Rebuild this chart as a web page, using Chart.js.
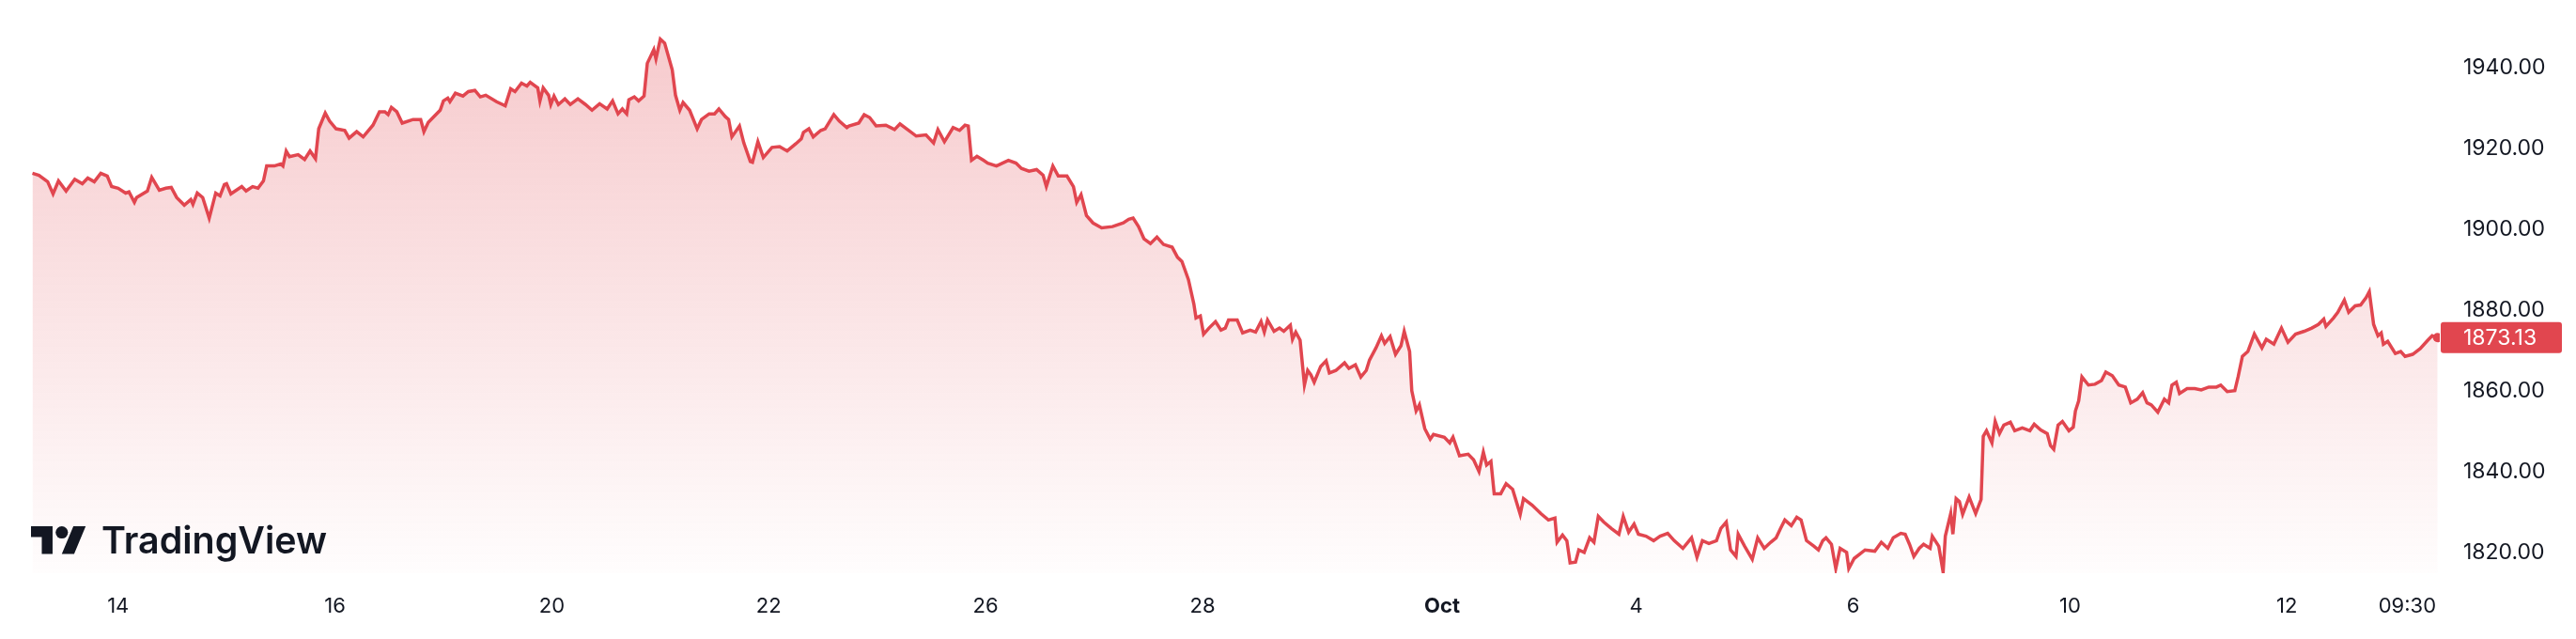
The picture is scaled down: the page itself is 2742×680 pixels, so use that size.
<!DOCTYPE html>
<html>
<head>
<meta charset="utf-8">
<title>Price chart</title>
<script src="https://cdn.jsdelivr.net/npm/chart.js@4.4.1/dist/chart.umd.min.js"></script>
<style>
  html, body { margin: 0; padding: 0; background: #ffffff; }
  canvas { display: block; }
</style>
</head>
<body>
<canvas id="priceChart" width="2742" height="680"></canvas>
<script>
// time axis is counted in trading sessions, 0 = the "14" label
const sessionDays = [
  -0.79, -0.73, -0.65, -0.60, -0.55, -0.48, -0.40, -0.33, -0.28, -0.22, -0.16, -0.10, -0.06, 0.00, 0.07, 0.10,
  0.15, 0.17, 0.27, 0.31, 0.38, 0.44, 0.49, 0.54, 0.61, 0.67, 0.69, 0.73, 0.78, 0.84, 0.90, 0.94,
  0.98, 1.00, 1.04, 1.14, 1.18, 1.24, 1.29, 1.34, 1.37, 1.44, 1.50, 1.52, 1.55, 1.58, 1.66, 1.72,
  1.77, 1.82, 1.85, 1.91, 1.95, 2.01, 2.09, 2.13, 2.20, 2.26, 2.35, 2.41, 2.46, 2.49, 2.52, 2.57,
  2.62, 2.72, 2.79, 2.82, 2.86, 2.97, 3.00, 3.04, 3.06, 3.11, 3.18, 3.23, 3.29, 3.34, 3.39, 3.49,
  3.57, 3.62, 3.66, 3.72, 3.77, 3.80, 3.87, 3.89, 3.92, 3.97, 3.99, 4.02, 4.06, 4.12, 4.17, 4.24,
  4.31, 4.37, 4.44, 4.51, 4.56, 4.61, 4.65, 4.69, 4.71, 4.76, 4.80, 4.85, 4.88, 4.94, 4.96, 5.00,
  5.04, 5.11, 5.14, 5.18, 5.21, 5.27, 5.34, 5.38, 5.45, 5.50, 5.54, 5.60, 5.63, 5.66, 5.73, 5.77,
  5.83, 5.85, 5.90, 5.95, 6.03, 6.10, 6.17, 6.25, 6.30, 6.32, 6.37, 6.41, 6.48, 6.52, 6.60, 6.65,
  6.72, 6.74, 6.83, 6.88, 6.93, 6.99, 7.08, 7.16, 7.21, 7.28, 7.36, 7.45, 7.52, 7.56, 7.62, 7.70,
  7.76, 7.81, 7.84, 7.87, 7.92, 7.98, 8.02, 8.10, 8.21, 8.28, 8.33, 8.40, 8.47, 8.53, 8.56, 8.62,
  8.67, 8.75, 8.81, 8.84, 8.88, 8.93, 8.99, 9.07, 9.17, 9.27, 9.32, 9.36, 9.41, 9.46, 9.52, 9.58,
  9.64, 9.72, 9.77, 9.81, 9.87, 9.92, 9.94, 9.98, 10.01, 10.06, 10.12, 10.17, 10.21, 10.24, 10.32, 10.37,
  10.44, 10.49, 10.54, 10.57, 10.60, 10.66, 10.71, 10.75, 10.81, 10.83, 10.86, 10.90, 10.94, 10.97, 11.00, 11.03,
  11.09, 11.14, 11.17, 11.23, 11.31, 11.35, 11.41, 11.46, 11.51, 11.54, 11.60, 11.65, 11.68, 11.73, 11.78, 11.83,
  11.86, 11.91, 11.93, 11.97, 12.00, 12.05, 12.10, 12.13, 12.23, 12.28, 12.31, 12.37, 12.45, 12.50, 12.55, 12.59,
  12.62, 12.66, 12.69, 12.75, 12.80, 12.86, 12.93, 12.96, 13.04, 13.12, 13.19, 13.25, 13.27, 13.32, 13.36, 13.39,
  13.44, 13.47, 13.52, 13.57, 13.61, 13.65, 13.70, 13.77, 13.84, 13.88, 13.93, 13.98, 14.02, 14.09, 14.16, 14.22,
  14.29, 14.35, 14.43, 14.51, 14.56, 14.61, 14.67, 14.74, 14.78, 14.83, 14.87, 14.92, 14.94, 15.00, 15.07, 15.12,
  15.18, 15.24, 15.29, 15.33, 15.37, 15.43, 15.48, 15.52, 15.57, 15.64, 15.68, 15.72, 15.75, 15.80, 15.84, 15.88,
  15.94, 15.96, 16.01, 16.11, 16.20, 16.26, 16.32, 16.37, 16.44, 16.48, 16.52, 16.56, 16.61, 16.65, 16.71, 16.73,
  16.79, 16.83, 16.85, 16.90, 16.92, 16.95, 16.98, 17.01, 17.07, 17.13, 17.18, 17.20, 17.23, 17.28, 17.31, 17.35,
  17.39, 17.45, 17.49, 17.56, 17.63, 17.67, 17.73, 17.79, 17.82, 17.85, 17.89, 17.93, 17.99, 18.03, 18.05, 18.08,
  18.11, 18.17, 18.23, 18.29, 18.33, 18.39, 18.45, 18.51, 18.56, 18.62, 18.67, 18.71, 18.75, 18.81, 18.87, 18.91,
  18.94, 18.98, 19.01, 19.08, 19.15, 19.21, 19.28, 19.35, 19.39, 19.45, 19.52, 19.55, 19.59, 19.64, 19.70, 19.77,
  19.81, 19.88, 19.95, 20.01, 20.08, 20.16, 20.23, 20.29, 20.34, 20.36, 20.43, 20.47, 20.53, 20.57, 20.63, 20.68,
  20.73, 20.76, 20.80, 20.84, 20.87, 20.89, 20.93, 21.00, 21.05, 21.09, 21.16, 21.23, 21.30, 21.34, 21.39
];

const prices = [
  1913.8, 1913.3, 1911.7, 1908.7, 1911.9, 1909.4, 1912.3, 1911.2, 1912.6, 1911.7, 1913.8, 1913.1, 1910.5, 1910.1, 1908.9, 1909.2,
  1906.6, 1907.8, 1909.4, 1912.8, 1909.6, 1910.1, 1910.3, 1907.8, 1905.9, 1907.3, 1906.1, 1908.9, 1907.8, 1902.7, 1908.9, 1908.2,
  1911.0, 1911.2, 1908.7, 1910.5, 1909.4, 1910.5, 1910.1, 1911.9, 1915.6, 1915.6, 1916.1, 1915.6, 1919.3, 1917.9, 1918.4, 1917.2,
  1919.3, 1917.4, 1924.8, 1928.7, 1926.7, 1924.8, 1924.4, 1922.5, 1924.1, 1922.8, 1925.7, 1929.0, 1929.0, 1928.3, 1930.1, 1929.0,
  1926.2, 1927.1, 1927.1, 1924.1, 1926.4, 1929.4, 1931.7, 1932.4, 1931.5, 1933.6, 1932.9, 1934.0, 1934.3, 1932.7, 1933.1, 1931.5,
  1930.5, 1934.7, 1934.0, 1936.1, 1935.4, 1936.3, 1934.9, 1931.7, 1934.9, 1933.1, 1930.8, 1932.9, 1930.8, 1932.2, 1930.8, 1932.2,
  1930.8, 1929.4, 1931.0, 1929.7, 1931.7, 1928.5, 1929.7, 1928.5, 1932.0, 1932.7, 1931.7, 1932.9, 1941.0, 1944.4, 1942.1, 1947.0,
  1946.0, 1939.4, 1933.1, 1929.4, 1931.3, 1929.4, 1924.8, 1927.1, 1928.5, 1928.5, 1929.7, 1927.8, 1927.1, 1922.8, 1925.5, 1921.3,
  1916.7, 1916.5, 1921.6, 1917.7, 1920.2, 1920.4, 1919.3, 1921.1, 1922.3, 1923.9, 1924.8, 1922.8, 1924.4, 1924.8, 1928.3, 1926.7,
  1925.1, 1925.5, 1926.2, 1928.3, 1927.6, 1925.5, 1925.7, 1924.6, 1926.0, 1924.6, 1923.0, 1923.3, 1921.3, 1924.6, 1921.6, 1925.1,
  1924.4, 1925.7, 1925.5, 1917.0, 1918.0, 1917.0, 1916.3, 1915.6, 1917.0, 1916.3, 1915.0, 1914.3, 1914.7, 1913.3, 1910.5, 1915.6,
  1913.1, 1913.1, 1910.5, 1906.6, 1908.5, 1903.3, 1901.5, 1900.3, 1900.6, 1901.5, 1902.4, 1902.7, 1900.6, 1897.6, 1896.4, 1898.0,
  1896.2, 1895.5, 1893.0, 1892.0, 1887.5, 1881.5, 1878.0, 1878.5, 1874.0, 1875.5, 1877.1, 1875.0, 1875.5, 1877.5, 1877.5, 1874.3,
  1875.0, 1874.5, 1877.1, 1874.5, 1877.5, 1874.7, 1875.5, 1874.7, 1876.2, 1872.7, 1874.5, 1872.5, 1861.4, 1865.0, 1863.9, 1862.1,
  1866.0, 1867.4, 1864.4, 1865.0, 1866.9, 1865.5, 1866.4, 1863.4, 1865.0, 1867.6, 1870.6, 1873.6, 1871.7, 1873.4, 1869.0, 1871.1,
  1874.7, 1869.7, 1860.0, 1855.0, 1856.5, 1850.6, 1848.0, 1849.2, 1848.5, 1847.1, 1848.5, 1843.9, 1844.3, 1842.9, 1840.0, 1844.8,
  1841.6, 1842.5, 1834.5, 1834.5, 1837.0, 1835.6, 1829.4, 1833.3, 1831.7, 1829.6, 1828.0, 1828.5, 1822.5, 1824.3, 1822.9, 1817.4,
  1817.6, 1820.6, 1820.0, 1823.6, 1822.5, 1828.9, 1827.5, 1825.9, 1824.5, 1828.9, 1825.0, 1827.0, 1824.5, 1824.0, 1822.9, 1824.0,
  1824.7, 1822.9, 1821.0, 1823.6, 1818.8, 1822.9, 1822.2, 1822.9, 1825.9, 1827.5, 1820.6, 1819.0, 1824.5, 1821.5, 1818.3, 1823.6,
  1821.0, 1822.5, 1823.6, 1825.9, 1828.0, 1826.6, 1828.7, 1828.0, 1822.9, 1821.5, 1820.6, 1822.9, 1823.6, 1822.0, 1816.0, 1821.0,
  1820.0, 1816.0, 1818.5, 1820.6, 1820.3, 1822.5, 1821.0, 1823.6, 1824.7, 1824.5, 1822.0, 1819.0, 1821.0, 1822.0, 1821.0, 1824.0,
  1821.5, 1815.1, 1824.0, 1829.6, 1824.5, 1833.3, 1832.6, 1829.4, 1833.7, 1829.6, 1833.1, 1848.7, 1850.1, 1847.1, 1852.4, 1849.4,
  1851.5, 1852.2, 1850.1, 1850.8, 1850.1, 1851.7, 1850.3, 1849.4, 1846.4, 1845.5, 1851.5, 1852.4, 1850.1, 1851.0, 1855.0, 1857.5,
  1863.4, 1861.4, 1861.6, 1862.5, 1864.6, 1863.7, 1861.4, 1860.9, 1857.0, 1857.9, 1859.5, 1857.0, 1856.5, 1854.7, 1857.9, 1857.0,
  1861.4, 1862.1, 1859.3, 1860.5, 1860.5, 1860.2, 1860.9, 1860.9, 1861.4, 1859.8, 1860.0, 1863.4, 1868.5, 1869.7, 1874.0, 1870.6,
  1872.7, 1871.5, 1875.5, 1872.0, 1874.0, 1874.7, 1875.5, 1876.4, 1877.7, 1875.9, 1878.0, 1879.4, 1882.4, 1879.4, 1881.0, 1881.2,
  1883.0, 1884.5, 1876.4, 1873.6, 1874.3, 1871.5, 1872.2, 1869.2, 1869.7, 1868.5, 1869.0, 1870.4, 1872.5, 1873.6, 1873.13
];

const timeTickLabels = ['14', '16', '20', '22', '26', '28', 'Oct', '4', '6', '10', '12', '09:30'];
const timeTickDays = [0, 2, 4, 6, 8, 10, 12.21, 14, 16, 18, 20, 21.11];
const priceTicks = [1820, 1840, 1860, 1880, 1900, 1920, 1940];

const RED = '#e1464f';
const TEXT = '#131722';
const FONT = 'Inter, "Noto Sans", sans-serif';
const lastPrice = prices[prices.length - 1];

// last value tag on the price scale
const priceTagPlugin = {
    id: 'priceTag',
    afterDraw(chart) {
        const ctx = chart.ctx;
        const yScale = chart.scales.y;
        const y = yScale.getPixelForValue(lastPrice);
        const left = yScale.left + 1;
        ctx.save();
        ctx.fillStyle = RED;
        ctx.beginPath();
        ctx.roundRect(left, y - 16.5, 129, 33, 3);
        ctx.fill();
        ctx.fillStyle = '#ffffff';
        ctx.font = '23px ' + FONT;
        ctx.textAlign = 'left';
        ctx.textBaseline = 'middle';
        ctx.fillText(lastPrice.toFixed(2), yScale.left + 25, y + 1);
        ctx.restore();
    }
};

// TradingView watermark, bottom left
const logoPlugin = {
    id: 'logo',
    afterDatasetsDraw(chart) {
        const ctx = chart.ctx;
        ctx.save();
        ctx.fillStyle = TEXT;
        ctx.translate(33, 553.4);
        ctx.scale(1.64, 1.64);
        ctx.fill(new Path2D('M14 22H7V11H0V4h14v18zM28 22h-8l7.5-18h8L28 22z'));
        ctx.beginPath();
        ctx.arc(20, 8, 4, 0, Math.PI * 2);
        ctx.fill();
        ctx.restore();

        ctx.save();
        ctx.fillStyle = TEXT;
        let size = 38;
        ctx.font = '600 ' + size + 'px ' + FONT;
        const w = ctx.measureText('TradingView').width;
        size = size * 240 / w;
        ctx.font = '600 ' + size.toFixed(1) + 'px ' + FONT;
        ctx.textBaseline = 'alphabetic';
        ctx.fillText('TradingView', 108, 589);
        ctx.restore();
    }
};

const canvas = document.getElementById('priceChart');

new Chart(canvas, {
    type: 'line',
    data: {
        datasets: [{
            data: sessionDays.map((d, i) => ({ x: d, y: prices[i] })),
            borderColor: RED,
            borderWidth: 3.5,
            tension: 0,
            fill: 'start',
            backgroundColor: (c) => {
                const area = c.chart.chartArea;
                if (!area) return 'rgba(225, 70, 79, 0.15)';
                const g = c.chart.ctx.createLinearGradient(0, area.top, 0, area.bottom);
                g.addColorStop(0, 'rgba(225, 70, 79, 0.30)');
                g.addColorStop(1, 'rgba(225, 70, 79, 0.01)');
                return g;
            },
            pointRadius: (c) => c.dataIndex === prices.length - 1 ? 5 : 0,
            pointHoverRadius: 0,
            pointBackgroundColor: RED,
            pointBorderWidth: 0
        }]
    },
    options: {
        responsive: false,
        animation: false,
        layout: { padding: 0 },
        plugins: {
            legend: { display: false },
            tooltip: { enabled: false }
        },
        scales: {
            x: {
                type: 'linear',
                min: -1.046,
                max: 21.41,
                grid: { display: false, drawTicks: false },
                border: { display: false },
                afterBuildTicks: (s) => { s.ticks = timeTickDays.map(v => ({ value: v })); },
                afterFit: (s) => {
                    s.height = 70;
                    s.paddingLeft = 0;
                    s.paddingRight = 0;
                },
                ticks: {
                    autoSkip: false,
                    maxRotation: 0,
                    padding: 22,
                    color: TEXT,
                    font: (c) => ({
                        family: FONT,
                        size: 22,
                        weight: timeTickLabels[c.index] === 'Oct' ? '700' : '400'
                    }),
                    callback: (v, i) => timeTickLabels[i]
                }
            },
            y: {
                position: 'right',
                min: 1814.84,
                max: 1955.5,
                grid: { display: false, drawTicks: false },
                border: { display: false },
                afterBuildTicks: (s) => { s.ticks = priceTicks.map(v => ({ value: v })); },
                afterFit: (s) => {
                    s.width = 145;
                    s.paddingTop = 0;
                    s.paddingBottom = 0;
                },
                ticks: {
                    padding: 25,
                    color: TEXT,
                    font: { family: FONT, size: 23 },
                    callback: (v) => Number(v).toFixed(2)
                }
            }
        }
    },
    plugins: [logoPlugin, priceTagPlugin]
});
</script>
</body>
</html>
